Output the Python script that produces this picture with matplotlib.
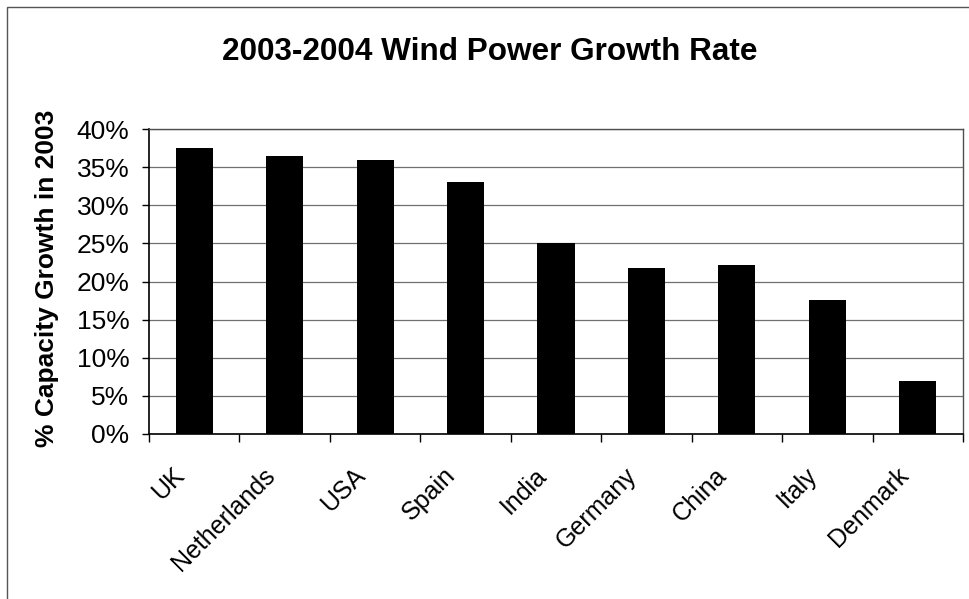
import matplotlib.pyplot as plt
from matplotlib.patches import Rectangle
from matplotlib.ticker import MultipleLocator, PercentFormatter
from matplotlib.transforms import ScaledTranslation

plt.rcParams['font.family'] = ['Liberation Sans', 'DejaVu Sans']

# capacity growth by country, percent
countries = ['UK', 'Netherlands', 'USA', 'Spain', 'India', 'Germany', 'China', 'Italy', 'Denmark']
growth = [37.5, 36.5, 35.9, 33.0, 25.0, 21.8, 22.1, 17.6, 6.9]

fig = plt.figure(figsize=(9.7, 5.99), dpi=100)
ax = fig.add_axes([0.1536, 0.2755, 0.8392, 0.5091])

x = range(len(countries))
ax.bar(x, growth, width=0.41, color='black', zorder=3)

ax.set_xlim(-0.5, len(countries) - 0.5)
ax.set_ylim(0, 40)
ax.yaxis.set_major_locator(MultipleLocator(5))
ax.yaxis.set_major_formatter(PercentFormatter(decimals=0))
ax.grid(axis='y', color='#707070', linewidth=0.9, zorder=0)

# category ticks sit between the bars, names go on minor ticks
ax.set_xticks([i - 0.5 for i in range(len(countries) + 1)])
ax.set_xticklabels([])
ax.tick_params(axis='x', which='major', direction='out', length=6, width=1)
ax.set_xticks(list(x), minor=True)
ax.set_xticklabels(countries, minor=True, rotation=45, ha='right', va='top',
                   rotation_mode='anchor', fontsize=18)
ax.tick_params(axis='x', which='minor', length=0, pad=21)
shift = ScaledTranslation(-0.22, 0, fig.dpi_scale_trans)
for lbl in ax.get_xticklabels(minor=True):
    lbl.set_transform(lbl.get_transform() + shift)

ax.tick_params(axis='y', direction='out', length=5, width=1, labelsize=19, pad=9)

for side in ['left', 'bottom']:
    ax.spines[side].set_color('black')
    ax.spines[side].set_linewidth(1.2)
for side in ['top', 'right']:
    ax.spines[side].set_color('#505050')
    ax.spines[side].set_linewidth(1.0)

ax.set_ylabel('% Capacity Growth in 2003', fontsize=19, fontweight='bold')
ax.yaxis.label.set_verticalalignment('center')
ax.yaxis.set_label_coords(-0.125, 0.51)

fig.text(0.505, 0.8998, '2003-2004 Wind Power Growth Rate', ha='center', va='baseline',
         fontsize=22.7, fontweight='bold')

# chart frame: only the top and left edges fall inside the image
fig.patches.append(Rectangle((7 / 970, -0.02), 1.0, 1.02 - 7 / 599, transform=fig.transFigure,
                             fill=False, edgecolor='#555555', linewidth=1.0))

plt.savefig('out.png', dpi=100)
